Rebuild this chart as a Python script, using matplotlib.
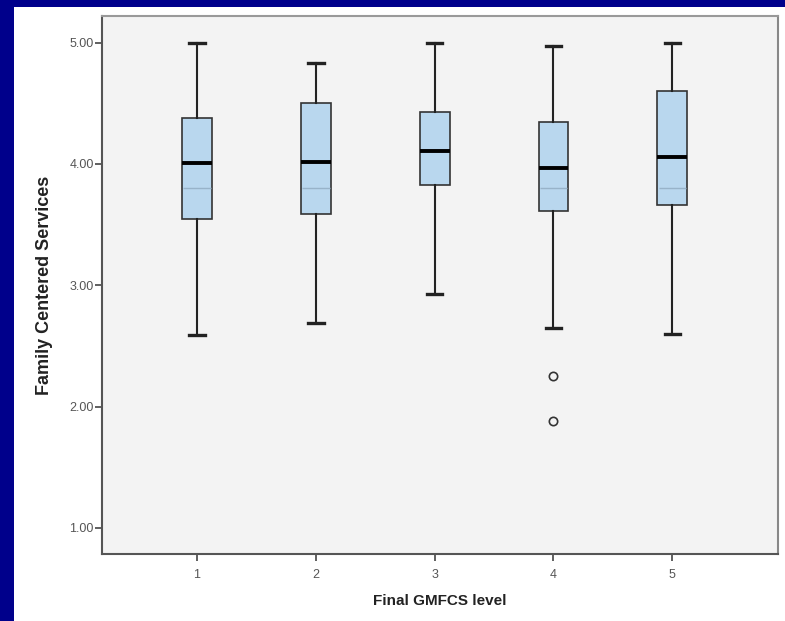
import matplotlib
matplotlib.use('Agg')
import matplotlib.pyplot as plt
from matplotlib.patches import Rectangle

# GMFCS levels and box statistics
levels = [1, 2, 3, 4, 5]
whisker_lo = [2.59, 2.69, 2.93, 2.65, 2.60]
q1 = [3.545, 3.59, 3.83, 3.61, 3.66]
median = [4.01, 4.02, 4.11, 3.97, 4.06]
q3 = [4.38, 4.50, 4.43, 4.35, 4.60]
whisker_hi = [5.00, 4.83, 5.00, 4.97, 5.00]
outliers = {4: [2.25, 1.88]}
ref_line = 3.80  # faint band line visible inside the boxes

y_ticks = [1.0, 2.0, 3.0, 4.0, 5.0]

stats = []
for i, lvl in enumerate(levels):
    stats.append({
        'label': str(lvl),
        'whislo': whisker_lo[i], 'q1': q1[i], 'med': median[i],
        'q3': q3[i], 'whishi': whisker_hi[i],
        'fliers': outliers.get(lvl, []),
    })

plt.rcParams['font.family'] = ['Liberation Sans', 'DejaVu Sans']

fig = plt.figure(figsize=(7.85, 6.21), dpi=100)
fig.patch.set_facecolor('#00008b')
fig.patches.append(Rectangle((14 / 785, 0), 1, (621 - 7) / 621,
                             transform=fig.transFigure, facecolor='white',
                             edgecolor='none', zorder=-10))

ax = fig.add_axes([102 / 785, 1 - 554 / 621, 676 / 785, 538 / 621])
ax.set_facecolor('#f3f3f3')

ax.bxp(stats, positions=levels, widths=0.25, patch_artist=True,
       boxprops=dict(facecolor='#b9d7ee', edgecolor='#333333', linewidth=1.2),
       medianprops=dict(color='black', linewidth=2.8),
       whiskerprops=dict(color='#222222', linewidth=1.5),
       capprops=dict(color='#222222', linewidth=2.4),
       capwidths=0.13,
       flierprops=dict(marker='o', markerfacecolor='none',
                       markeredgecolor='#333333', markersize=6,
                       markeredgewidth=1.2))

# faint band line inside boxes (except level 3 whose box sits above it)
for i, lvl in enumerate(levels):
    if q1[i] < ref_line < median[i]:
        ax.hlines(ref_line, lvl - 0.115, lvl + 0.115, color='#98b3c9',
                  linewidth=1.0, zorder=3)

ax.set_xlim(0.2, 5.89)
ax.set_ylim(0.785, 5.22)
ax.set_yticks(y_ticks)
ax.set_yticklabels([f'{v:.2f}' for v in y_ticks])
ax.set_xticks(levels)
ax.set_xticklabels([str(v) for v in levels])

ax.tick_params(axis='both', direction='out', length=5, width=1.2,
               colors='#444444', labelsize=9, labelcolor='#555555')
ax.tick_params(axis='y', pad=1)
ax.tick_params(axis='x', pad=6)
for side in ['left', 'bottom', 'top', 'right']:
    ax.spines[side].set_color('#555555')
    ax.spines[side].set_linewidth(1.5)
ax.spines['top'].set_color('#999999')
ax.spines['right'].set_color('#888888')

ax.set_ylabel('Family Centered Services', fontsize=13, fontweight='bold',
              color='#222222', labelpad=12)
ax.set_xlabel('Final GMFCS level', fontsize=11, fontweight='bold',
              color='#222222', labelpad=9)

fig.savefig('out.png', dpi=100, facecolor=fig.get_facecolor())
